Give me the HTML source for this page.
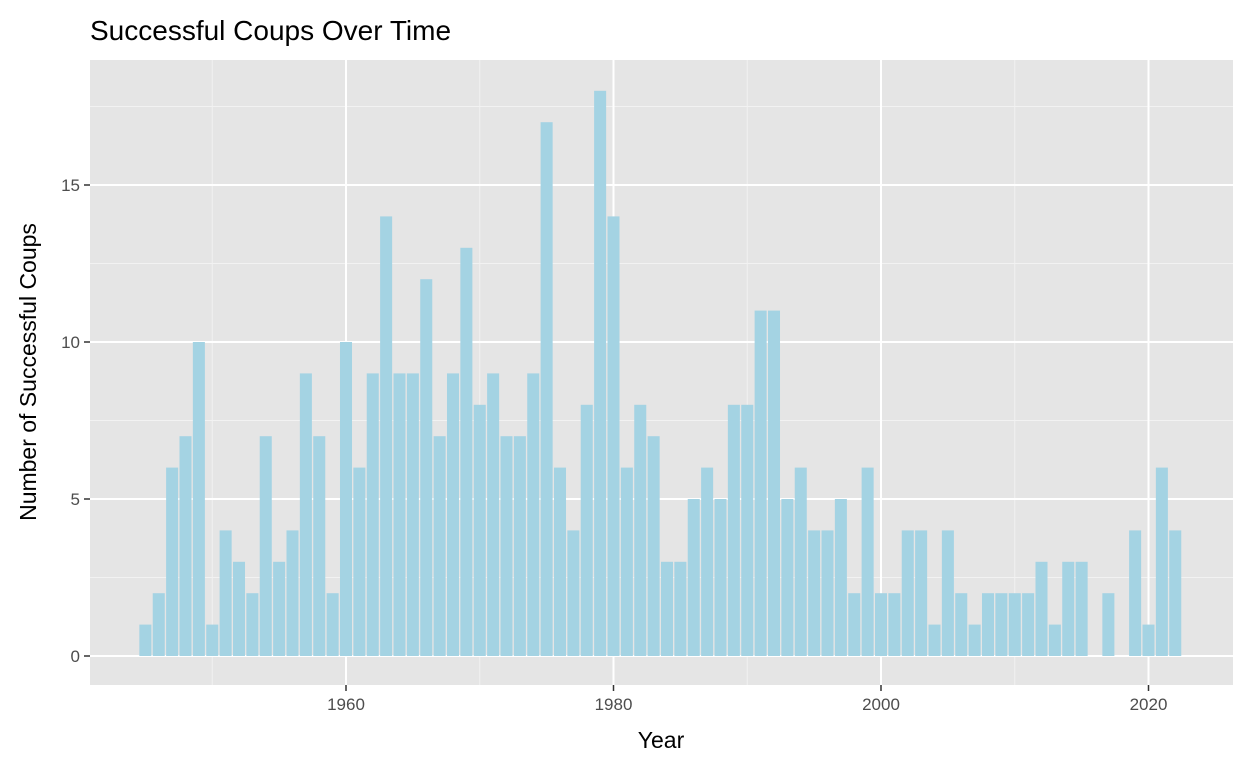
<!DOCTYPE html>
<html><head><meta charset="utf-8"><style>
body{margin:0;background:#fff;}
svg{display:block;font-family:"Liberation Sans",Arial,sans-serif;}
</style></head><body>
<svg id="chart" width="1248" height="768">
<text x="90" y="40" font-size="28" fill="#000">Successful Coups Over Time</text>
<rect x="90" y="60" width="1143" height="625" fill="#e5e5e5"/>
<g id="grid"></g>
<g id="bars"></g>
<g id="axes"></g>
<text x="661" y="748" font-size="23" text-anchor="middle" fill="#000">Year</text>
<text transform="translate(36,372) rotate(-90)" font-size="23" text-anchor="middle" fill="#000">Number of Successful Coups</text>
</svg>
<script>
const years=[];for(let y=1945;y<=2022;y++)years.push(y);
const counts=[1,2,6,7,10,1,4,3,2,7,3,4,9,7,2,10,6,9,14,9,9,12,7,9,13,8,9,7,7,9,17,6,4,8,18,14,6,8,7,3,3,5,6,5,8,8,11,11,5,6,4,4,5,2,6,2,2,4,4,1,4,2,1,2,2,2,2,3,1,3,3,0,2,0,4,1,6,4];
const xTicks=[1960,1980,2000,2020];
const xMinor=[1950,1970,1990,2010];
const yTicks=[0,5,10,15];
const yMinor=[2.5,7.5,12.5,17.5];
const NS="http://www.w3.org/2000/svg";
const X=v=>346+(v-1960)*13.375;
const Y=v=>656-v*31.4;
function mk(tag,attrs,parent){const e=document.createElementNS(NS,tag);for(const k in attrs)e.setAttribute(k,attrs[k]);document.getElementById(parent).appendChild(e);return e;}
yMinor.forEach(v=>{const l=mk('line',{x1:90,x2:1233,y1:Y(v),y2:Y(v),stroke:'#f2f2f2','stroke-width':1},'grid');

});
xMinor.forEach(v=>{const l=mk('line',{x1:X(v),x2:X(v),y1:60,y2:685,stroke:'#f2f2f2','stroke-width':1},'grid');

});
yTicks.forEach(v=>{const l=mk('line',{x1:90,x2:1233,y1:Y(v),y2:Y(v),stroke:'#fff','stroke-width':2},'grid');


const t=mk('line',{x1:84,x2:90,y1:Y(v),y2:Y(v),stroke:'#333','stroke-width':1.5},'axes');


const tx=mk('text',{x:80,y:Y(v)+6,'font-size':17,'text-anchor':'end',fill:'#4d4d4d'},'axes');tx.textContent=v;

});
xTicks.forEach(v=>{const l=mk('line',{x1:X(v),x2:X(v),y1:60,y2:685,stroke:'#fff','stroke-width':2},'grid');


const t=mk('line',{x1:X(v),x2:X(v),y1:685,y2:691,stroke:'#333','stroke-width':1.5},'axes');


const tx=mk('text',{x:X(v),y:710,'font-size':17,'text-anchor':'middle',fill:'#4d4d4d'},'axes');tx.textContent=v;

});
const bw=13.375*0.9;
years.forEach((yr,i)=>{const v=counts[i];if(v<=0)return;
const r=mk('rect',{x:X(yr)-bw/2,y:Y(v),width:bw,height:Y(0)-Y(v),fill:'#a4d3e3'},'bars');

});
</script>
</body></html>
